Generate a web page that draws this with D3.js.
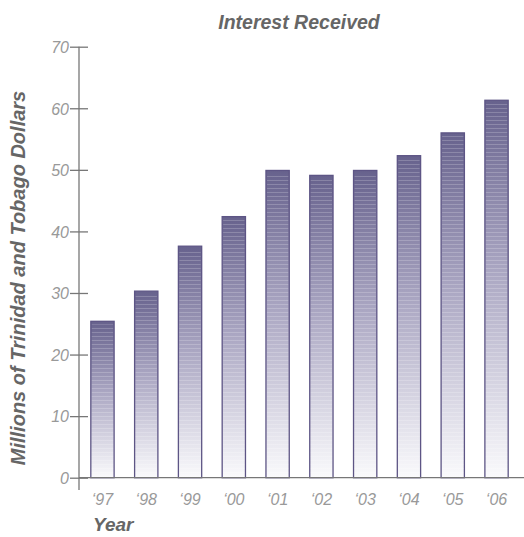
<!DOCTYPE html>
<html><head><meta charset="utf-8">
<script src="https://cdn.jsdelivr.net/npm/d3@7"></script>
<style>html,body{margin:0;padding:0;background:#fff;}</style>
</head><body>
<script>
const years = ["‘97","‘98","‘99","‘00","‘01","‘02","‘03","‘04","‘05","‘06"];
const values = [25.4, 30.3, 37.6, 42.4, 49.9, 49.1, 49.9, 52.3, 56.0, 61.3];
const yTicks = [0,10,20,30,40,50,60,70];
const title = "Interest Received";
const yTitle = "Millions of Trinidad and Tobago Dollars";
const xTitle = "Year";

const W = 524, H = 537;
const svg = d3.select("body").append("svg").attr("width", W).attr("height", H);
const defs = svg.append("defs");
const grad = defs.append("linearGradient").attr("id","bg").attr("x1",0).attr("y1",0).attr("x2",0).attr("y2",1);
grad.append("stop").attr("offset","0%").attr("stop-color","#67628d");
grad.append("stop").attr("offset","45%").attr("stop-color","#aaa6c2");
grad.append("stop").attr("offset","100%").attr("stop-color","#fafafc");
const pat = defs.append("pattern").attr("id","stripes").attr("patternUnits","userSpaceOnUse")
  .attr("width",10).attr("height",4);
pat.append("rect").attr("x",0).attr("y",0).attr("width",10).attr("height",1).attr("fill","#fff").attr("opacity",0.2);

const x = d3.scaleBand().domain(years).range([79, 520]).paddingInner(0.468).paddingOuter(0.27);
const y = d3.scaleLinear().domain([0,70]).range([477.7, 46.7]);

const font = "'Liberation Sans', Arial, sans-serif";

const g = svg.append("g");
g.selectAll("rect.bar").data(values).join("rect").attr("class","bar")
  .attr("x",(d,i)=>x(years[i])).attr("width",x.bandwidth())
  .attr("y",d=>y(d)).attr("height",d=>y(0)-y(d))
  .attr("fill","url(#bg)").attr("stroke","#5d5585").attr("stroke-width",1.3);
g.selectAll("rect.str").data(values).join("rect").attr("class","str")
  .attr("x",(d,i)=>x(years[i])+1).attr("width",x.bandwidth()-2)
  .attr("y",d=>y(d)+3).attr("height",d=>y(0)-y(d)-3)
  .attr("fill","url(#stripes)");

svg.append("line").attr("x1",79).attr("x2",W).attr("y1",y(0)).attr("y2",y(0))
  .attr("stroke","#777").attr("stroke-width",1.3);

const yAxis = d3.axisLeft(y).tickValues(yTicks).tickSize(0).tickPadding(0).tickFormat(d3.format("d"));
const ya = svg.append("g").attr("transform","translate(79,0)").call(yAxis);
ya.select(".domain").remove();
ya.append("line").attr("x1",0).attr("x2",0).attr("y1",y(70)).attr("y2",490).attr("stroke","#777").attr("stroke-width",1.3);
ya.selectAll(".tick line").attr("x1",-9).attr("x2",9).attr("stroke","#777").attr("stroke-width",1.3);
ya.selectAll(".tick text").attr("x",-10).attr("dy","0.36em").attr("fill","#999")
  .style("font-family",font).style("font-style","italic").style("font-size","16px");

const xAxis = d3.axisBottom(x).tickSize(0).tickPadding(0);
const xa = svg.append("g").attr("transform","translate(0,"+y(0)+")").call(xAxis);
xa.select(".domain").remove();
xa.selectAll(".tick text").attr("y",27).attr("dy",0).attr("fill","#999")
  .style("font-family",font).style("font-style","italic").style("font-size","16px");

svg.append("text").attr("x",299).attr("y",29).attr("text-anchor","middle")
  .attr("fill","#666").style("font-family",font).style("font-style","italic").style("font-weight","bold")
  .style("font-size","19.5px").text(title);
svg.append("text").attr("transform","translate(25,278) rotate(-90)").attr("text-anchor","middle")
  .attr("fill","#666").style("font-family",font).style("font-style","italic").style("font-weight","bold")
  .style("font-size","20px").text(yTitle);
svg.append("text").attr("x",93).attr("y",531).attr("fill","#666")
  .style("font-family",font).style("font-style","italic").style("font-weight","bold")
  .style("font-size","19px").text(xTitle);
</script>
</body></html>
